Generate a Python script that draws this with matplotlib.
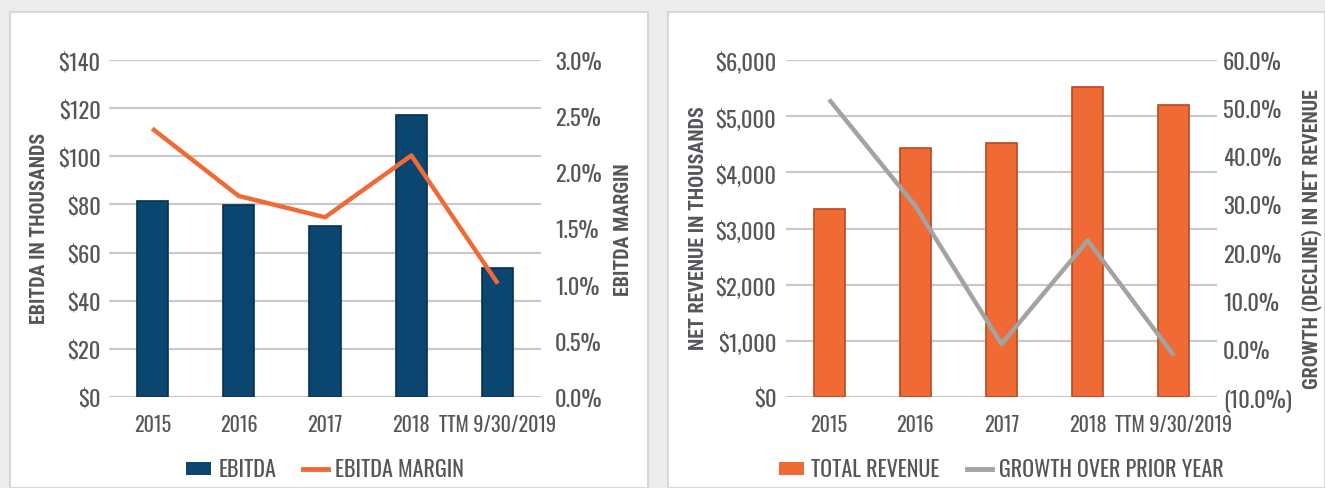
import matplotlib

matplotlib.use("Agg")
import matplotlib.pyplot as plt
from matplotlib import font_manager
from matplotlib.font_manager import FontProperties
from matplotlib.lines import Line2D
from matplotlib.patches import Patch, Rectangle
from matplotlib.textpath import TextPath
from matplotlib.ticker import FuncFormatter, MultipleLocator

# data
periods = ["2015", "2016", "2017", "2018", "TTM 9/30/2019"]
ebitda = [81.4, 79.8, 71.0, 117.2, 53.6]              # $ thousands
ebitda_margin = [2.39, 1.79, 1.60, 2.15, 1.01]        # %
revenue = [3347, 4433, 4522, 5519, 5199]              # $ thousands
revenue_growth = [51.8, 29.7, 1.0, 22.5, -1.4]        # %

TEXT = "#55565a"
GRID = "#c9c9c9"
NAVY = "#0b4670"
ORANGE = "#f06a35"
GRAY = "#a3a3a3"

installed = {f.name for f in font_manager.fontManager.ttflist}


def first_font(names):
    for n in names:
        if n in installed:
            return n
    return "DejaVu Sans"


MAIN = first_font(["Oswald", "Pathway Gothic One", "Antonio", "Roboto Condensed",
                   "Barlow Condensed", "Liberation Sans Narrow"])
LABEL = first_font(["Roboto Condensed", "Barlow Condensed", "Oswald", "Liberation Sans Narrow"])
MW = "bold"


def fit(text, family, px, weight="normal"):
    # font size (pt) that makes `text` about `px` pixels wide at 100 dpi
    w = TextPath((0, 0), text, size=100,
                 prop=FontProperties(family=family, weight=weight)).get_extents().width
    return 100 * px / (w * 100 / 72)


XT = fit("TTM 9/30/2019", MAIN, 116, MW)
YT = fit("$140", MAIN, 40, MW)
LG = fit("EBITDA MARGIN", MAIN, 126, MW)
YL = fit("EBITDA IN THOUSANDS", LABEL, 190, "bold")

W, H = 1325, 489
fig = plt.figure(figsize=(W / 100, H / 100), dpi=100)
fig.patch.set_facecolor("#ececec")

# white panels behind each chart
for x0, x1 in [(10, 648), (668, 1325)]:
    fig.patches.append(Rectangle((x0 / W, 0), (x1 - x0) / W, 1 - 13 / H,
                                 transform=fig.transFigure, facecolor="white",
                                 edgecolor="#d8d8d8", lw=1.5, zorder=-10))


def px_axes(x0, x1, y_top=61, y_bot=398):
    return fig.add_axes([x0 / W, 1 - y_bot / H, (x1 - x0) / W, (y_bot - y_top) / H])


def pct(v, _):
    return f"({abs(v):.1f}%)" if v < -1e-9 else f"{v:.1f}%"


def chart(x0, x1, bars, bar_color, bar_edge, line, line_color, ymax, ystep,
          rlim, rstep, ylabel, rlabel, leg_labels, pads, label_x, rlabel_y):
    ax = px_axes(x0, x1)
    for s in ax.spines.values():
        s.set_visible(False)
    ax.set_facecolor("none")
    ax.yaxis.grid(True, color=GRID, lw=1.6)
    ax.set_axisbelow(True)

    xs = range(len(periods))
    ax.bar(xs, bars, width=0.36, color=bar_color, edgecolor=bar_edge, lw=1.2, zorder=2)
    ax.set_xlim(-0.5, len(periods) - 0.5)
    ax.set_ylim(0, ymax)
    ax.yaxis.set_major_locator(MultipleLocator(ystep))
    ax.yaxis.set_major_formatter(FuncFormatter(lambda v, _: f"${v:,.0f}"))
    ax.set_xticks(list(xs))
    ax.set_xticklabels(periods, family=MAIN, fontsize=XT, weight=MW, color=TEXT)
    ax.tick_params(axis="x", length=0, pad=12)
    ax.tick_params(axis="y", length=0, pad=pads[0])
    for t in ax.get_yticklabels():
        t.set(family=MAIN, fontsize=YT, weight=MW, color=TEXT)

    ax2 = ax.twinx()
    for s in ax2.spines.values():
        s.set_visible(False)
    ax2.plot(xs, line, color=line_color, lw=3.2, solid_capstyle="butt", zorder=3)
    ax2.set_ylim(*rlim)
    ax2.yaxis.set_major_locator(MultipleLocator(rstep))
    ax2.yaxis.set_major_formatter(FuncFormatter(pct))
    ax2.tick_params(axis="y", length=0, pad=pads[1])
    for t in ax2.get_yticklabels():
        t.set(family=MAIN, fontsize=YT, weight=MW, color=TEXT)

    ax.text(label_x[0], 0.504, ylabel, transform=ax.transAxes, rotation=90,
            ha="center", va="center", family=LABEL, fontsize=YL,
            fontweight="bold", color=TEXT)
    ax.text(label_x[1], rlabel_y, rlabel, transform=ax.transAxes, rotation=90,
            ha="center", va="center", family=LABEL, fontsize=YL,
            fontweight="bold", color=TEXT)

    fs_px = LG * 100 / 72
    handles = [Patch(facecolor=bar_color, edgecolor="none"),
               Line2D([], [], color=line_color, lw=3.5)]
    ax.legend(handles, leg_labels, loc="center", bbox_to_anchor=(0.5, -0.215),
              ncol=2, frameon=False,
              prop=FontProperties(family=MAIN, size=LG, weight=MW),
              labelcolor=TEXT, handlelength=25 / fs_px, handleheight=0.5,
              handletextpad=7 / fs_px, columnspacing=27 / fs_px)
    return ax


chart(109, 541, ebitda, NAVY, "#07304f", ebitda_margin, ORANGE, 140, 20,
      (0, 3.0), 0.5, "EBITDA IN THOUSANDS", "EBITDA MARGIN",
      ["EBITDA", "EBITDA MARGIN"], (6, 10), (-0.161, 1.19), 0.498)

chart(786, 1217, revenue, ORANGE, "#b84a22", revenue_growth, GRAY, 6000, 1000,
      (-10, 60), 10, "NET REVENUE IN THOUSANDS", "GROWTH (DECLINE) IN NET REVENUE",
      ["TOTAL REVENUE", "GROWTH OVER PRIOR YEAR"], (7, 4.5), (-0.204, 1.219), 0.472)

fig.savefig("out.png", dpi=100, facecolor=fig.get_facecolor())
